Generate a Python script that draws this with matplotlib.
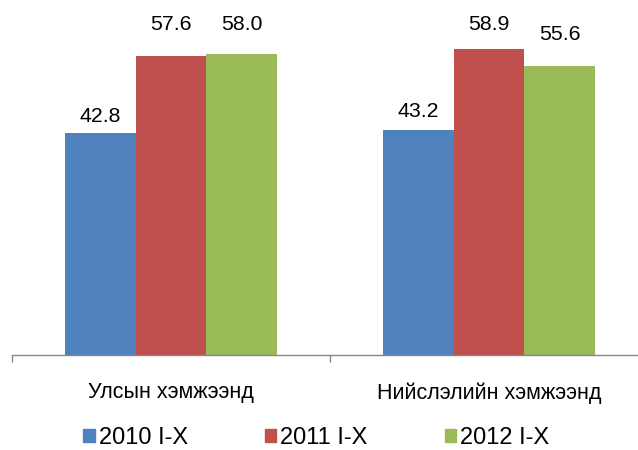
import numpy as np
import matplotlib
matplotlib.use('Agg')
import matplotlib.pyplot as plt
from matplotlib.patches import Patch

plt.rcParams['font.family'] = ['Liberation Sans', 'DejaVu Sans']

categories = ['Улсын хэмжээнд', 'Нийслэлийн хэмжээнд']
series = ['2010 I-X', '2011 I-X', '2012 I-X']
v2010 = [42.8, 43.2]
v2011 = [57.6, 58.9]
v2012 = [58.0, 55.6]
colors = ['#4F81BD', '#C0504D', '#9BBB59']

# data label lift above bar top (points), labels were hand placed in the original
label_lift = [[11.5, 13.5], [22.5, 17.5], [21, 22.5]]

fig = plt.figure(figsize=(6.38, 4.5), dpi=100)
ax = fig.add_axes([12 / 638, 95 / 450, 636 / 638, 355 / 450])

x = np.arange(len(categories))
w = 0.222
for i, vals in enumerate([v2010, v2011, v2012]):
    pos = x + (i - 1) * w
    ax.bar(pos, vals, width=w, color=colors[i], linewidth=0)
    for j, (p, v) in enumerate(zip(pos, vals)):
        ax.annotate(f'{v:.1f}', (p, v), xytext=(0, label_lift[i][j]), textcoords='offset points',
                    ha='center', va='center', fontsize=15.3)

ax.set_xlim(-0.5, 1.5)
ax.set_ylim(0, 68.3)
for s in ['top', 'right', 'left']:
    ax.spines[s].set_visible(False)
ax.spines['bottom'].set_color('#868686')
ax.spines['bottom'].set_linewidth(1)
ax.set_yticks([])
ax.set_xticks([-0.5, 0.5, 1.5])
ax.set_xticklabels([])
ax.tick_params(axis='x', length=5, color='#868686', width=1)
for xi, c in zip(x, categories):
    ax.text(xi, -7.3, c, ha='center', va='center', fontsize=15.5)

handles = [Patch(color=c) for c in colors]
fig.legend(handles, series, loc='center left', bbox_to_anchor=(83 / 638, 12 / 450), ncol=3,
           frameon=False, fontsize=17, handlelength=0.5, handleheight=0.5,
           handletextpad=0.17, columnspacing=3.25, borderpad=0, borderaxespad=0)

fig.savefig('out.png', dpi=100)
